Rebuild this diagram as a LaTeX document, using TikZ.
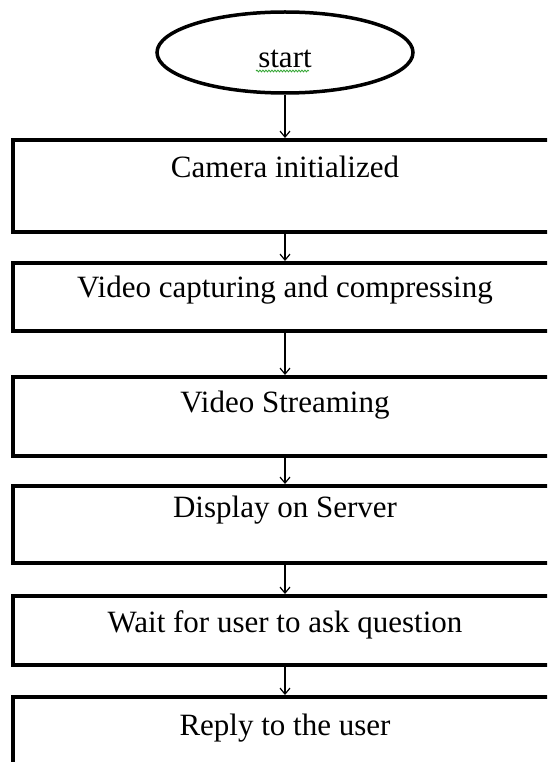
\documentclass[tikz,border=0pt]{standalone}
\usepackage{fontspec}
\setmainfont{Liberation Serif}
\usetikzlibrary{arrows.meta,shapes.geometric,decorations.pathmorphing}
\definecolor{spell}{rgb}{0.2,0.65,0.2}

\begin{document}
\begin{tikzpicture}[x=1pt,y=-1pt,
	procbox/.style={shape=rectangle, draw, line width=3.5pt,
		minimum width=544pt, inner xsep=0, inner ysep=0, outer sep=0,
		anchor=north west, font=\fontsize{31}{37}\selectfont},
	startell/.style={shape=ellipse, draw, line width=3.5pt,
		minimum width=256pt, minimum height=81pt, inner sep=0, outer sep=0,
		text height=31pt, text depth=0pt,
		font=\fontsize{31}{37}\selectfont},
	flow/.style={-{Straight Barb[length=6pt,width=10pt]}, line width=1.2pt,
		shorten <=1.75pt, shorten >=2pt},
	squiggle/.style={draw=spell, line width=0.8pt,
		decorate, decoration={snake, segment length=3pt, amplitude=0.9pt}}]
	
	\useasboundingbox (0,0) rectangle (547,762);
	\clip (0,0) rectangle (547,762);
	
	\node[startell] (start) at (285,52.5) {start};
	\draw[squiggle] (256,71) -- (309,71);
	
	% name/text/top/height/depth
	\foreach \n/\t/\top/\h/\d in {
		b1/Camera initialized/140/38/54,
		b2/Video capturing and compressing/263/34/34,
		b3/Video Streaming/377/35/44,
		b4/Display on Server/486/31/46,
		b5/Wait for user to ask question/596/36/33,
		b6/Reply to the user/697/38/80}{%
		\node[procbox, text height=\h pt, text depth=\d pt] (\n) at (13,\top) {\t};
	}
	
	\draw[flow] (start.south) -- (b1.north);
	\foreach \a/\b in {b1/b2,b2/b3,b3/b4,b4/b5,b5/b6}{%
		\draw[flow] (\a.south) -- (\b.north);
	}
\end{tikzpicture}
\end{document}
